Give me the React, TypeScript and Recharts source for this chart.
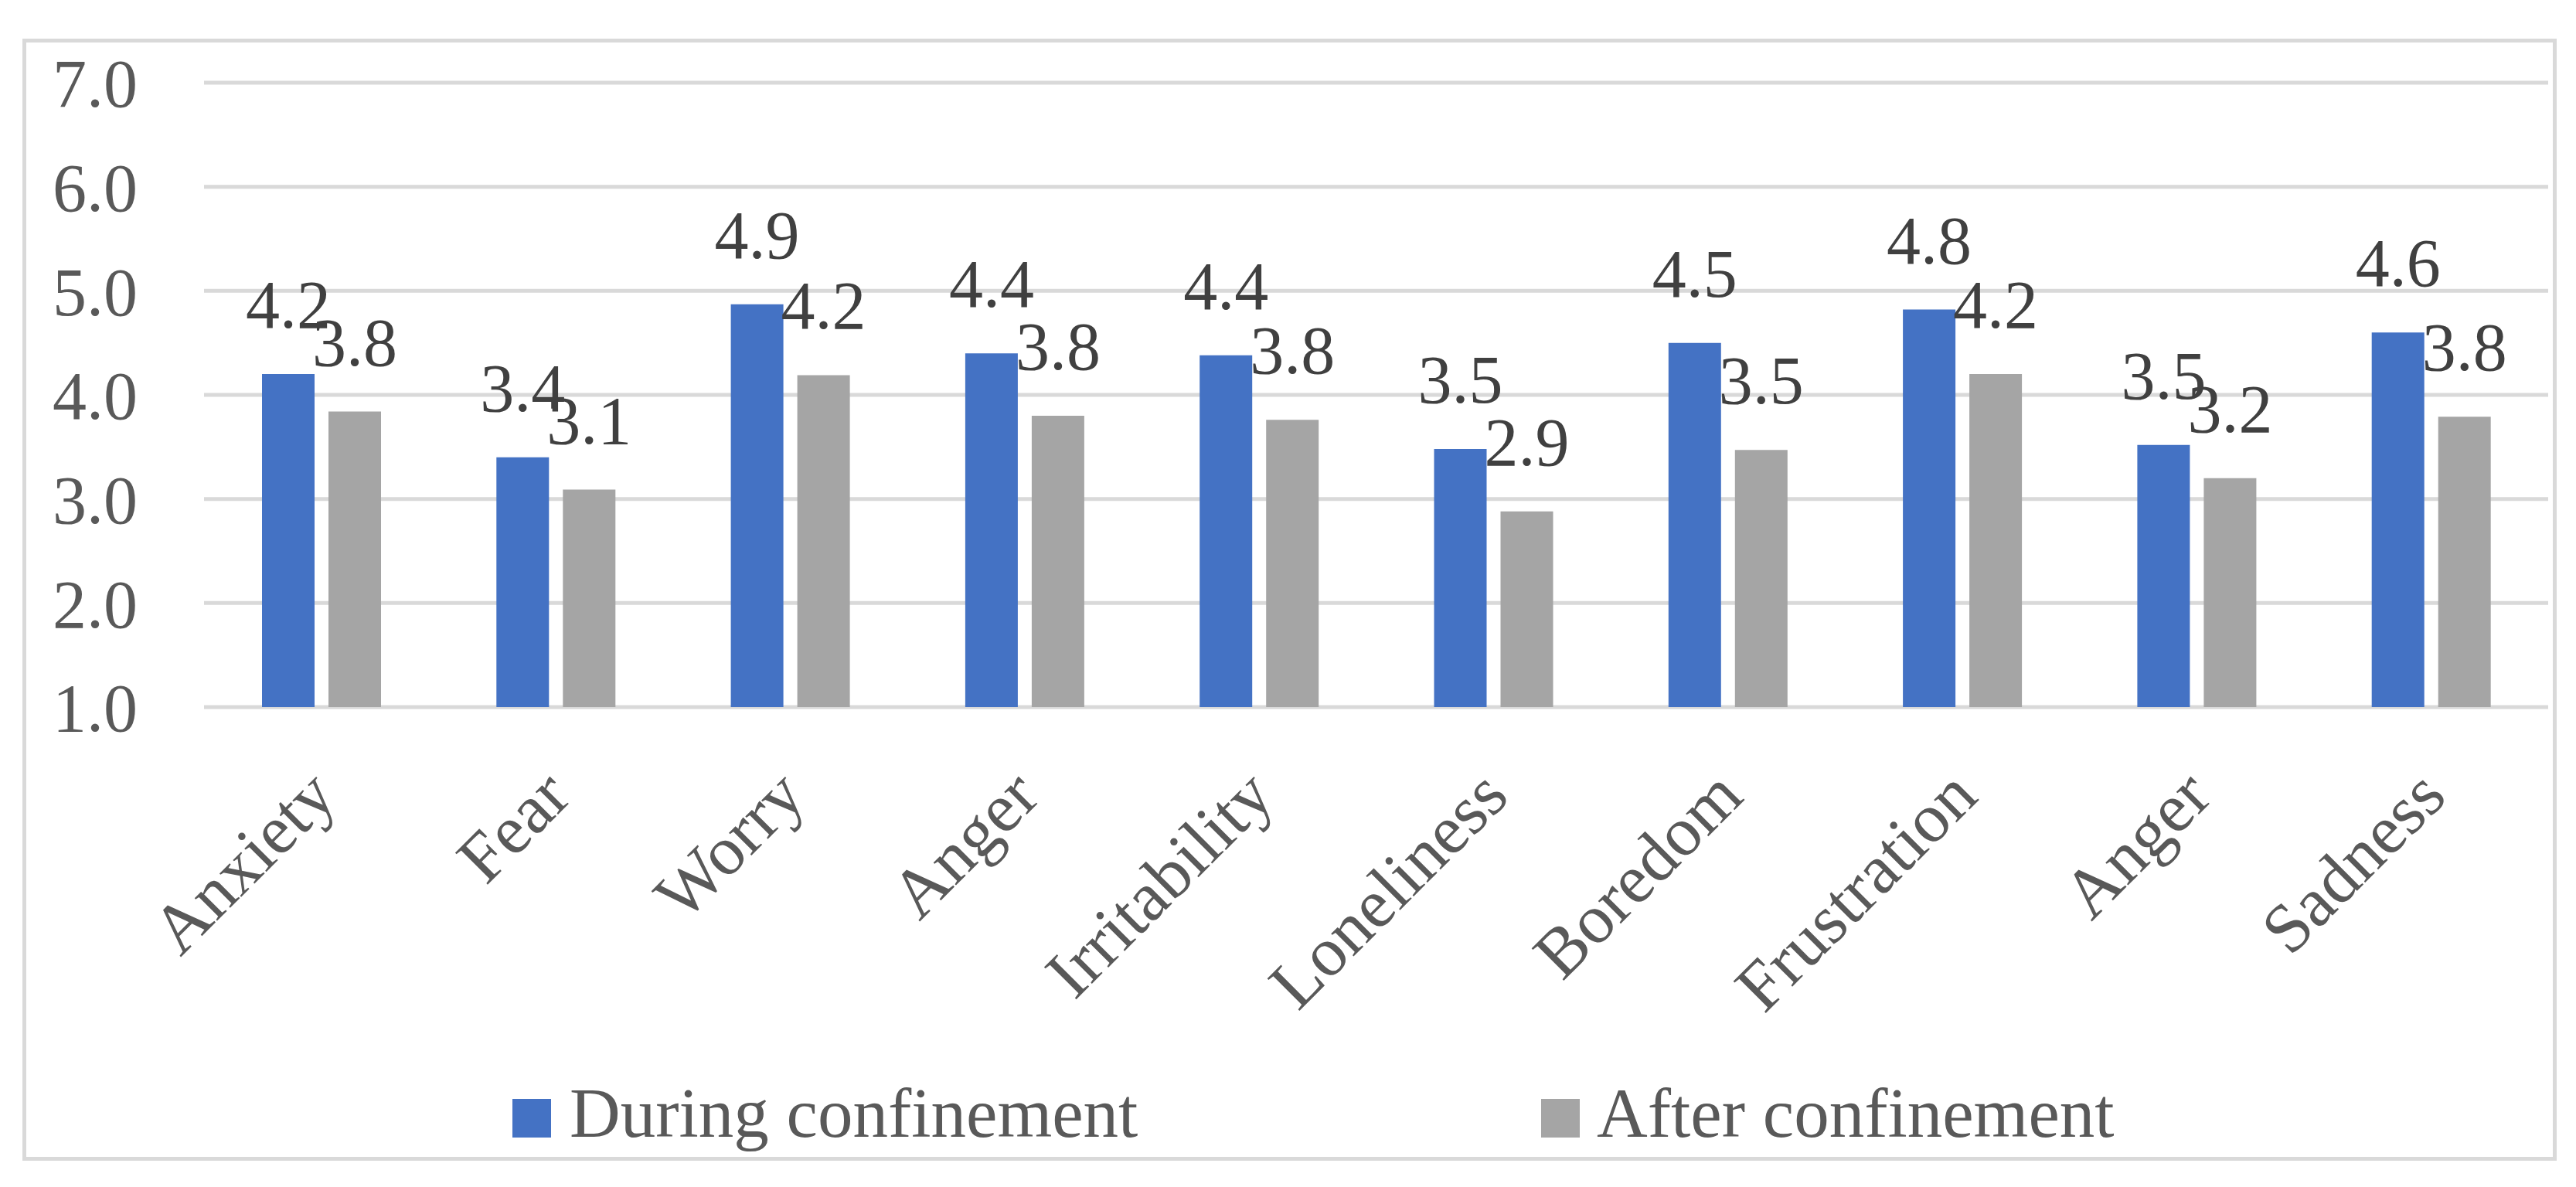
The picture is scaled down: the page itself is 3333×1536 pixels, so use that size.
import { BarChart, Bar, XAxis, YAxis, CartesianGrid, Legend, LabelList } from "recharts";

const categories = ["Anxiety", "Fear", "Worry", "Anger", "Irritability", "Loneliness", "Boredom", "Frustration", "Anger", "Sadness"];
const during = [4.2, 3.4, 4.87, 4.4, 4.38, 3.48, 4.5, 4.82, 3.52, 4.6];
const after = [3.84, 3.09, 4.19, 3.8, 3.76, 2.88, 3.47, 4.2, 3.2, 3.79];
const yTicks = [1, 2, 3, 4, 5, 6, 7];

const data = categories.map((name, i) => ({ name, during: during[i], after: after[i] }));

const FONT = "'Liberation Serif', 'Times New Roman', serif";

// rotated category labels, anchored at the end of the text
const CategoryTick = (props: any) => {
    const { x, y, payload } = props;
    const tx = x + 23;
    const ty = y + 119;
    return (
        <text x={tx} y={ty} transform={`rotate(-45, ${tx}, ${ty})`} textAnchor="end" fill="#595959" fontSize={90} fontFamily={FONT}>
            {payload.value}
        </text>
    );
};

const renderLegend = () => (
    <div style={{ position: "relative", height: 100, fontFamily: FONT, color: "#595959" }}>
        <div style={{ position: "absolute", left: 663, top: 27, width: 50, height: 50, background: "#4472C4" }} />
        <span style={{ position: "absolute", left: 737, top: 0, fontSize: 91, lineHeight: "91px", whiteSpace: "nowrap" }}>During confinement</span>
        <div style={{ position: "absolute", left: 1994, top: 27, width: 50, height: 50, background: "#A5A5A5" }} />
        <span style={{ position: "absolute", left: 2066, top: 0, fontSize: 91, lineHeight: "91px", whiteSpace: "nowrap" }}>After confinement</span>
    </div>
);

export default function App() {
    return (
        <div style={{ position: "absolute", left: 0, top: 0, width: 3333, height: 1536, background: "#fff", fontFamily: FONT }}>
            <div style={{ position: "absolute", left: 29, top: 50, width: 3279, height: 1452, border: "5px solid #d9d9d9", boxSizing: "border-box" }} />
            <BarChart width={3333} height={1536} data={data} margin={{ top: 107, right: 36, left: 0, bottom: 0 }} barSize={68} barGap={18}>
                <CartesianGrid vertical={false} stroke="#d9d9d9" strokeWidth={5} />
                <XAxis dataKey="name" height={621} axisLine={false} tickLine={false} tickSize={0} tickMargin={0} interval={0} tick={<CategoryTick />} />
                <YAxis
                    width={264}
                    domain={[1, 7]}
                    ticks={yTicks}
                    interval={0}
                    axisLine={false}
                    tickLine={false}
                    tickSize={0}
                    tickMargin={86}
                    tickFormatter={(v: number) => v.toFixed(1)}
                    tick={{ fill: "#595959", fontSize: 88, fontFamily: FONT }}
                />
                <Legend layout="horizontal" verticalAlign="middle" align="center" content={renderLegend} wrapperStyle={{ position: "absolute", left: 0, top: 1395, width: 3333, height: 100 }} />
                <Bar dataKey="during" name="During confinement" fill="#4472C4" isAnimationActive={false}>
                    <LabelList dataKey="during" position="top" offset={60} fill="#404040" fontSize={88} fontFamily={FONT} formatter={(v: any) => Number(v).toFixed(1)} />
                </Bar>
                <Bar dataKey="after" name="After confinement" fill="#A5A5A5" isAnimationActive={false}>
                    <LabelList dataKey="after" position="top" offset={60} fill="#404040" fontSize={88} fontFamily={FONT} formatter={(v: any) => Number(v).toFixed(1)} />
                </Bar>
            </BarChart>
        </div>
    );
}
